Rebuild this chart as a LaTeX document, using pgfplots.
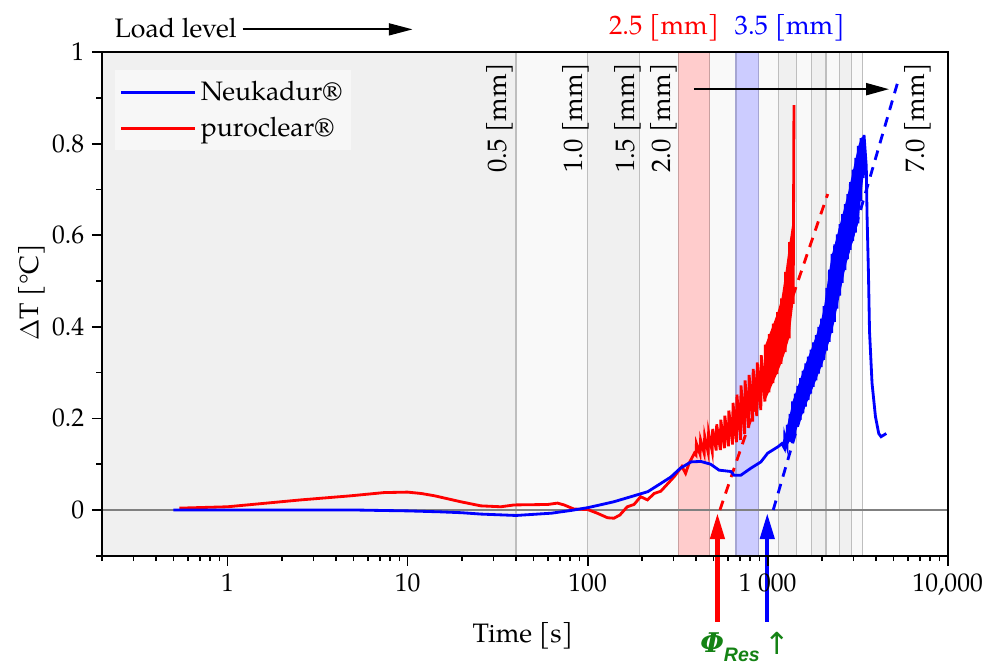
\documentclass[border=0pt]{standalone}
\usepackage{fontspec}
\setmainfont{texgyrepagella}[Extension=.otf, UprightFont=*-regular, BoldFont=*-bold, ItalicFont=*-italic, BoldItalicFont=*-bolditalic]
\newfontfamily\dvs{DejaVu Serif}
\newfontfamily\djs{DejaVu Sans}
\newfontfamily\lsans{Liberation Sans}
\usepackage{pgfplots}
\pgfplotsset{compat=1.18}
\usetikzlibrary{arrows.meta}
\definecolor{bandA}{RGB}{240,240,240}
\definecolor{bandB}{RGB}{249,249,249}
\definecolor{bandR}{RGB}{255,204,204}
\definecolor{bandBl}{RGB}{204,204,255}
\definecolor{vline}{RGB}{190,190,190}
\definecolor{vlineR}{RGB}{200,160,160}
\definecolor{vlineB}{RGB}{165,165,210}
\definecolor{legbg}{RGB}{247,247,247}
\definecolor{phigreen}{RGB}{20,130,20}
\definecolor{zeroline}{RGB}{128,128,128}
\begin{document}
\begin{tikzpicture}
\begin{axis}[
  scale only axis, width=389.8pt, height=232.1pt,
  xmode=log, xmin=0.2, xmax=10000, ymin=-0.1, ymax=1,
  axis on top, clip=false,
  xtick={1,10,100,1000,10000},
  xticklabels={1,10,100,1\ 000,{10,000}},
  minor xtick={0.2,0.3,0.4,0.5,0.6,0.7,0.8,0.9,2,3,4,5,6,7,8,9,20,30,40,50,60,70,80,90,200,300,400,500,600,700,800,900,2000,3000,4000,5000,6000,7000,8000,9000},
  ytick={0,0.2,0.4,0.6,0.8,1},
  yticklabels={0,0.2,0.4,0.6,0.8,1},
  minor ytick={-0.1,0.1,0.3,0.5,0.7,0.9},
  tick align=outside, tick pos=left,
  major tick length=4.6pt, minor tick length=2.5pt,
  every tick/.append style={black, line width=0.8pt},
  axis line style={line width=0.8pt},
  tick label style={font=\fontsize{11.8}{14}\selectfont},
  /pgf/number format/assume math mode=true,
  xlabel={Time [s]}, ylabel={$\Delta$T [°C]},
  label style={font=\fontsize{12.3}{14.8}\selectfont},
  xlabel style={at={(axis description cs:0.4977,-0.1596)}, anchor=center},
  ylabel style={at={(axis description cs:-0.0824,0.5235)}, anchor=center},
  legend style={at={(axis description cs:0.0157,0.9643)}, anchor=north west, fill=legbg, draw=none,
    font=\fontsize{12.3}{14.8}\selectfont, row sep=2pt, inner xsep=2pt, inner ysep=3pt},
  legend cell align=left,
  legend image code/.code={\draw[#1] (0pt,0pt) -- (34pt,0pt);},
]
% legend
\addlegendimage{blue, line width=1.3pt}\addlegendentry{Neukadur®}
\addlegendimage{red, line width=1.3pt}\addlegendentry{puroclear®}
% bands
\addplot[draw=none, fill=bandA, forget plot] coordinates {(0.2,-0.1)(0.2,1)(40,1)(40,-0.1)};
\addplot[draw=none, fill=bandB, forget plot] coordinates {(40,-0.1)(40,1)(100,1)(100,-0.1)};
\addplot[draw=none, fill=bandA, forget plot] coordinates {(100,-0.1)(100,1)(193,1)(193,-0.1)};
\addplot[draw=none, fill=bandB, forget plot] coordinates {(193,-0.1)(193,1)(320,1)(320,-0.1)};
\addplot[draw=none, fill=bandR, forget plot] coordinates {(320,-0.1)(320,1)(474,1)(474,-0.1)};
\addplot[draw=none, fill=bandB, forget plot] coordinates {(474,-0.1)(474,1)(667,1)(667,-0.1)};
\addplot[draw=none, fill=bandBl, forget plot] coordinates {(667,-0.1)(667,1)(891,1)(891,-0.1)};
\addplot[draw=none, fill=bandB, forget plot] coordinates {(891,-0.1)(891,1)(1145,1)(1145,-0.1)};
\addplot[draw=none, fill=bandA, forget plot] coordinates {(1145,-0.1)(1145,1)(1442,1)(1442,-0.1)};
\addplot[draw=none, fill=bandB, forget plot] coordinates {(1442,-0.1)(1442,1)(1762,1)(1762,-0.1)};
\addplot[draw=none, fill=bandA, forget plot] coordinates {(1762,-0.1)(1762,1)(2108,1)(2108,-0.1)};
\addplot[draw=none, fill=bandB, forget plot] coordinates {(2108,-0.1)(2108,1)(2498,1)(2498,-0.1)};
\addplot[draw=none, fill=bandA, forget plot] coordinates {(2498,-0.1)(2498,1)(2930,1)(2930,-0.1)};
\addplot[draw=none, fill=bandB, forget plot] coordinates {(2930,-0.1)(2930,1)(3373,1)(3373,-0.1)};
% boundary lines
\addplot[vline, line width=0.5pt, forget plot] coordinates {(40,-0.1)(40,1)};
\addplot[vline, line width=0.5pt, forget plot] coordinates {(100,-0.1)(100,1)};
\addplot[vline, line width=0.5pt, forget plot] coordinates {(193,-0.1)(193,1)};
\addplot[vlineR, line width=0.5pt, forget plot] coordinates {(320,-0.1)(320,1)};
\addplot[vlineR, line width=0.5pt, forget plot] coordinates {(474,-0.1)(474,1)};
\addplot[vlineB, line width=0.5pt, forget plot] coordinates {(667,-0.1)(667,1)};
\addplot[vlineB, line width=0.5pt, forget plot] coordinates {(891,-0.1)(891,1)};
\addplot[vline, line width=0.5pt, forget plot] coordinates {(1145,-0.1)(1145,1)};
\addplot[vline, line width=0.5pt, forget plot] coordinates {(1442,-0.1)(1442,1)};
\addplot[vline, line width=0.5pt, forget plot] coordinates {(1762,-0.1)(1762,1)};
\addplot[vline, line width=0.5pt, forget plot] coordinates {(2108,-0.1)(2108,1)};
\addplot[vline, line width=0.5pt, forget plot] coordinates {(2498,-0.1)(2498,1)};
\addplot[vline, line width=0.5pt, forget plot] coordinates {(2930,-0.1)(2930,1)};
\addplot[vline, line width=0.4pt, forget plot] coordinates {(3373,-0.1)(3373,1)};
% zero line
\addplot[zeroline, line width=0.6pt, forget plot] coordinates {(0.2,0)(10000,0)};
% dashed trend lines
\addplot[red, line width=1.3pt, dash pattern=on 4.5pt off 3.5pt, forget plot] coordinates {(543,0)(2155,0.69)};
\addplot[blue, line width=1.3pt, dash pattern=on 4.5pt off 3.5pt, forget plot] coordinates {(1074,0)(5385,0.946)};
% puroclear: solid part of the noisy band (envelope)
\addplot[draw=none, fill=red, forget plot] coordinates {
(971,0.361)(1022,0.384)(1076,0.407)(1134,0.432)(1194,0.462)(1257,0.520)(1324,0.585)(1400,0.65)
(1386,0.45)(1316,0.375)(1250,0.345)(1187,0.319)(1127,0.297)(1070,0.277)(1016,0.257)(965,0.237)};
% puroclear
\addplot[red, line width=1.3pt, forget plot] coordinates {
(0.54,0.004)(1,0.007)(2.55,0.022)(4.85,0.031)(7.4,0.038)(10,0.039)(11.9,0.036)(14.1,0.031)(19.7,0.018)(25.5,0.009)(33,0.007)(39,0.011)(60,0.012)(68,0.015)(74,0.011)(84,0.002)(100,0.001)(113,-0.007)(129,-0.017)(140,-0.018)(151,-0.011)(166,0.007)(181,0.012)(197,0.029)(215,0.022)(234,0.036)(255,0.041)(303,0.073)(334,0.095)(350,0.08)(366,0.102)(392,0.124)
(400,0.120)(402,0.145)
(421,0.122)(424,0.153)
(444,0.124)(447,0.161)
(467,0.126)(470,0.169)
(492,0.128)(495,0.177)
(518,0.130)(521,0.187)
(546,0.131)(549,0.197)
(575,0.135)(578,0.206)
(605,0.139)(609,0.217)
(638,0.143)(642,0.234)
(671,0.148)(675,0.252)
(707,0.153)(711,0.272)
(745,0.166)(749,0.283)
(784,0.180)(789,0.295)
(826,0.193)(831,0.308)
(870,0.205)(875,0.322)
(916,0.218)(921,0.338)
(965,0.237)(971,0.361)
(1016,0.257)(1022,0.384)
(1070,0.277)(1076,0.407)
(1127,0.297)(1134,0.432)
(1187,0.319)(1194,0.462)
(1250,0.345)(1257,0.520)
(1316,0.375)(1324,0.585)
(1386,0.450)(1400,0.884)
};
% Neukadur: solid part of the noisy band (envelope)
\addplot[draw=none, fill=blue, forget plot] coordinates {
(1244,0.160)(1286,0.186)(1330,0.210)(1375,0.237)(1423,0.254)(1472,0.271)(1522,0.288)(1574,0.304)(1627,0.320)(1684,0.335)(1741,0.350)(1800,0.366)(1862,0.382)(1926,0.400)(1992,0.418)(2059,0.445)(2129,0.485)(2203,0.525)(2278,0.559)(2356,0.580)(2437,0.602)(2520,0.624)(2606,0.646)(2696,0.668)(2787,0.690)(2882,0.716)(2982,0.743)(3083,0.769)(3189,0.795)(3298,0.812)(3430,0.819)
(3396,0.725)(3285,0.675)(3176,0.626)(3071,0.606)(2970,0.587)(2871,0.568)(2776,0.548)(2685,0.524)(2596,0.496)(2510,0.468)(2427,0.440)(2347,0.411)(2269,0.387)(2194,0.367)(2121,0.348)(2051,0.328)(1984,0.312)(1918,0.298)(1855,0.283)(1793,0.269)(1734,0.254)(1677,0.240)(1621,0.226)(1568,0.211)(1516,0.197)(1466,0.182)(1417,0.164)(1370,0.146)(1325,0.150)(1281,0.140)(1239,0.135)};
% Neukadur
\addplot[blue, line width=1.3pt, forget plot] coordinates {
(0.5,0)(1,0)(2,0)(5,0)(7,-0.001)(10,-0.002)(15,-0.004)(20,-0.006)(25.6,-0.009)(40,-0.012)(63,-0.007)(81,-0.001)(100,0.005)(114,0.01)(140,0.018)(174,0.029)(216,0.04)(255,0.058)(290,0.072)(327,0.091)(375,0.105)(425,0.106)(482,0.1)(537,0.087)(625,0.084)(650,0.076)(710,0.076)(805,0.091)(917,0.105)(1000,0.124)(1140,0.138)(1200,0.145)
(1239,0.135)(1244,0.160)
(1281,0.140)(1286,0.186)
(1325,0.150)(1330,0.210)
(1370,0.146)(1375,0.237)
(1417,0.164)(1423,0.254)
(1466,0.182)(1472,0.271)
(1516,0.197)(1522,0.288)
(1568,0.211)(1574,0.304)
(1621,0.226)(1627,0.320)
(1677,0.240)(1684,0.335)
(1734,0.254)(1741,0.350)
(1793,0.269)(1800,0.366)
(1855,0.283)(1862,0.382)
(1918,0.298)(1926,0.400)
(1984,0.312)(1992,0.418)
(2051,0.328)(2059,0.445)
(2121,0.348)(2129,0.485)
(2194,0.367)(2203,0.525)
(2269,0.387)(2278,0.559)
(2347,0.411)(2356,0.580)
(2427,0.440)(2437,0.602)
(2510,0.468)(2520,0.624)
(2596,0.496)(2606,0.646)
(2685,0.524)(2696,0.668)
(2776,0.548)(2787,0.690)
(2871,0.568)(2882,0.716)
(2970,0.587)(2982,0.743)
(3071,0.606)(3083,0.769)
(3176,0.626)(3189,0.795)
(3285,0.675)(3298,0.812)
(3396,0.725)(3430,0.819)
(3530,0.75)(3565,0.644)(3630,0.517)(3680,0.39)(3800,0.277)(3970,0.204)(4140,0.167)(4265,0.16)(4560,0.167)
};
% arrows
\addplot[black, line width=0.9pt, -{Triangle[length=10.5pt,width=5.5pt]}, forget plot] coordinates {(389.5,0.919)(4721,0.919)};
\addplot[black, line width=0.9pt, -{Triangle[length=11pt,width=5.5pt]}, forget plot] coordinates {(1.21,1.0496)(10.66,1.0496)};
\addplot[red, line width=2pt, -{Triangle[length=12pt,width=6.5pt]}, forget plot] coordinates {(526,-0.244)(526,-0.007)};
\addplot[blue, line width=2pt, -{Triangle[length=12pt,width=6.5pt]}, forget plot] coordinates {(995,-0.244)(995,-0.007)};
% texts
\node[anchor=base west, inner sep=0pt, font=\fontsize{12.3}{14.8}\selectfont] at (axis cs:0.2344,1.0321) {Load level};
\node[anchor=base west, inner sep=0pt, font=\fontsize{12.3}{14.8}\selectfont, text=red] at (axis cs:130.8,1.0387) {2.5 [mm]};
\node[anchor=base west, inner sep=0pt, font=\fontsize{12.3}{14.8}\selectfont, text=blue] at (axis cs:652.5,1.0387) {3.5 [mm]};
\node[anchor=base east, rotate=90, inner sep=0pt, font=\fontsize{12.3}{14.8}\selectfont] at (axis cs:35.2,0.978) {0.5 [mm]};
\node[anchor=base east, rotate=90, inner sep=0pt, font=\fontsize{12.3}{14.8}\selectfont] at (axis cs:93.8,0.978) {1.0 [mm]};
\node[anchor=base east, rotate=90, inner sep=0pt, font=\fontsize{12.3}{14.8}\selectfont] at (axis cs:181.5,0.978) {1.5 [mm]};
\node[anchor=base east, rotate=90, inner sep=0pt, font=\fontsize{12.3}{14.8}\selectfont] at (axis cs:290.2,0.978) {2.0 [mm]};
\node[anchor=base east, rotate=90, inner sep=0pt, font=\fontsize{12.3}{14.8}\selectfont] at (axis cs:7413,0.978) {7.0 [mm]};
\node[anchor=base west, inner sep=0pt, text=phigreen] at (axis cs:420,-0.3122) {{\dvs\bfseries\itshape\fontsize{12.5}{14}\selectfont Φ}\raisebox{-4pt}{\lsans\bfseries\itshape\fontsize{9}{10}\selectfont Res}};
\node[anchor=base west, inner sep=0pt, text=phigreen] at (axis cs:950,-0.3166) {\djs\fontsize{14}{16}\selectfont ↑};
\end{axis}
\pgfresetboundingbox
\path ([xshift=-46.9pt,yshift=-49.4pt]current axis.south west) rectangle ([xshift=21.8pt,yshift=24pt]current axis.north east);
\end{tikzpicture}
\end{document}
